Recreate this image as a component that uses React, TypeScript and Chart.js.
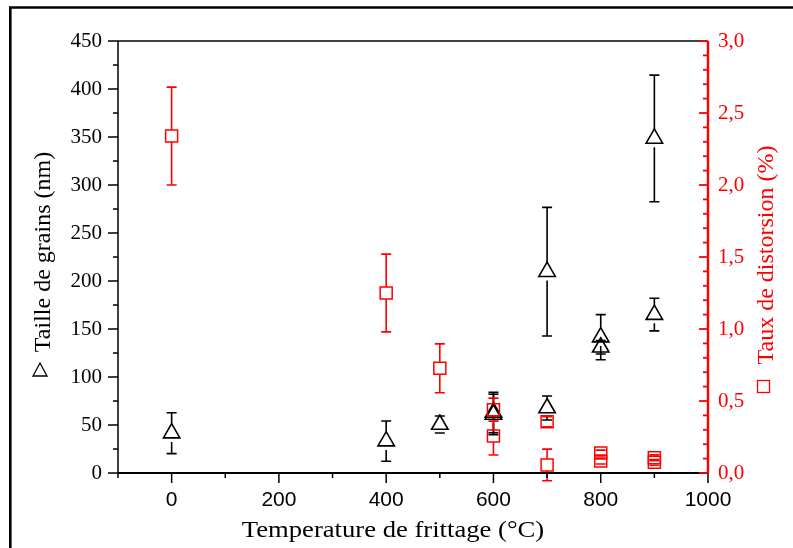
import React, { useEffect, useRef } from 'react';
import { Chart, registerables } from 'chart.js';

Chart.register(...registerables);

// ---- Data ----
const GRAIN_TEMPS = [0, 400, 500, 600, 600, 700, 700, 800, 800, 900, 900];
const GRAIN_SIZE = [41.5, 33.2, 50.5, 63, 61, 209.7, 67.7, 141.5, 131, 348.5, 165];
const GRAIN_ERR = [21.3, 21, 8.8, 21, 21, 67, 12.5, 23.5, 7, 66, 17];

const DIST_TEMPS = [0, 400, 500, 600, 600, 700, 700, 800, 800, 900, 900];
const DISTORTION = [2.34, 1.25, 0.727, 0.44, 0.257, 0.356, 0.056, 0.139, 0.083, 0.106, 0.074];
const DIST_ERR = [0.34, 0.27, 0.17, 0.08, 0.132, 0.035, 0.11, 0.02, 0.02, 0.02, 0.02];

const X_MAJOR = [0, 200, 400, 600, 800, 1000];
const X_MINOR = [-100, 100, 300, 500, 700, 900];
const Y_MAJOR = [0, 50, 100, 150, 200, 250, 300, 350, 400, 450];
const Y_MINOR = [25, 75, 125, 175, 225, 275, 325, 375, 425];
const Y2_MAJOR = [0, 0.5, 1.0, 1.5, 2.0, 2.5, 3.0];
const Y2_MINOR = [0.1, 0.2, 0.3, 0.4, 0.6, 0.7, 0.8, 0.9, 1.1, 1.2, 1.3, 1.4, 1.6, 1.7, 1.8, 1.9, 2.1, 2.2, 2.3, 2.4, 2.6, 2.7, 2.8, 2.9];

const X_TITLE = 'Temperature de frittage (°C)';
const Y_TITLE = 'Taille de grains (nm)';
const Y2_TITLE = 'Taux de distorsion (%)';

const RED = '#ff0000';
const SERIF = '"Liberation Serif", "Times New Roman", serif';
const SANS = '"Liberation Sans", Arial, sans-serif';

const errorBarPlugin = {
  id: 'errorBars',
  beforeDatasetsDraw(chart: any) {
    const ctx = chart.ctx;
    const xs = chart.scales.x;
    chart.data.datasets.forEach((ds: any) => {
      const ys = chart.scales[ds.yAxisID];
      const r = ds.pointRadius;
      const isTri = ds.pointStyle === 'triangle';
      const gapTop = isTri ? r : r * Math.SQRT1_2;
      const gapBot = isTri ? r / 2 + 4 : r * Math.SQRT1_2;
      ctx.save();
      ctx.strokeStyle = ds.borderColor;
      ctx.lineWidth = 1.6;
      ds.data.forEach((p: any) => {
        const x = xs.getPixelForValue(p.x);
        const yc = ys.getPixelForValue(p.y);
        const yT = ys.getPixelForValue(p.y + p.err);
        const yB = ys.getPixelForValue(p.y - p.err);
        ctx.beginPath();
        if (yT < yc - gapTop) { ctx.moveTo(x, yT); ctx.lineTo(x, yc - gapTop); }
        if (yB > yc + gapBot) { ctx.moveTo(x, yc + gapBot); ctx.lineTo(x, yB); }
        ctx.moveTo(x - 5, yT); ctx.lineTo(x + 5, yT);
        ctx.moveTo(x - 5, yB); ctx.lineTo(x + 5, yB);
        ctx.stroke();
      });
      ctx.restore();
    });
  },
};

const axesPlugin = {
  id: 'axesDecor',
  afterDraw(chart: any) {
    const ctx = chart.ctx;
    const { left, right, top, bottom } = chart.chartArea;
    const xs = chart.scales.x;
    const ys = chart.scales.y;
    const y2 = chart.scales.y1;
    ctx.save();
    // frame
    ctx.strokeStyle = '#000';
    ctx.lineWidth = 2.6;
    ctx.beginPath();
    ctx.moveTo(10.3, 548); ctx.lineTo(10.3, 7.5); ctx.lineTo(793, 7.5);
    ctx.stroke();

    // top axis line
    ctx.lineWidth = 1.5;
    ctx.beginPath(); ctx.moveTo(left, top); ctx.lineTo(right, top); ctx.stroke();
    // left axis
    ctx.beginPath(); ctx.moveTo(left, top); ctx.lineTo(left, bottom); ctx.stroke();
    Y_MAJOR.forEach(v => { const y = ys.getPixelForValue(v); ctx.beginPath(); ctx.moveTo(left - 10, y); ctx.lineTo(left, y); ctx.stroke(); });
    Y_MINOR.forEach(v => { const y = ys.getPixelForValue(v); ctx.beginPath(); ctx.moveTo(left - 5, y); ctx.lineTo(left, y); ctx.stroke(); });
    // bottom axis
    ctx.lineWidth = 1.8;
    ctx.beginPath(); ctx.moveTo(left, bottom); ctx.lineTo(right, bottom); ctx.stroke();
    ctx.lineWidth = 1.5;
    X_MAJOR.forEach(v => { const x = xs.getPixelForValue(v); ctx.beginPath(); ctx.moveTo(x, bottom); ctx.lineTo(x, bottom + 10); ctx.stroke(); });
    X_MINOR.forEach(v => { const x = xs.getPixelForValue(v); ctx.beginPath(); ctx.moveTo(x, bottom); ctx.lineTo(x, bottom + 5); ctx.stroke(); });
    // right axis (red, inward ticks)
    ctx.strokeStyle = RED;
    ctx.lineWidth = 2.4;
    ctx.beginPath(); ctx.moveTo(right, top); ctx.lineTo(right, bottom); ctx.stroke();
    ctx.lineWidth = 1.8;
    Y2_MAJOR.forEach(v => { const y = y2.getPixelForValue(v); ctx.beginPath(); ctx.moveTo(right - 9, y); ctx.lineTo(right, y); ctx.stroke(); });
    Y2_MINOR.forEach(v => { const y = y2.getPixelForValue(v); ctx.beginPath(); ctx.moveTo(right - 5, y); ctx.lineTo(right, y); ctx.stroke(); });

    // titles
    ctx.fillStyle = '#000';
    ctx.font = `24px ${SERIF}`;
    ctx.textAlign = 'center';
    ctx.textBaseline = 'alphabetic';
    ctx.save();
    ctx.translate(393, 537);
    ctx.scale(1.11, 1);
    ctx.fillText(X_TITLE, 0, 0);
    ctx.restore();

    ctx.save();
    ctx.translate(50, 252);
    ctx.rotate(-Math.PI / 2);
    ctx.fillText(Y_TITLE, 0, 0);
    ctx.restore();
    // triangle symbol
    ctx.lineWidth = 1.3;
    ctx.strokeStyle = '#000';
    ctx.beginPath();
    ctx.moveTo(40, 363); ctx.lineTo(47, 376); ctx.lineTo(33, 376); ctx.closePath();
    ctx.stroke();

    ctx.fillStyle = RED;
    ctx.save();
    ctx.translate(773, 255);
    ctx.rotate(-Math.PI / 2);
    ctx.fillText(Y2_TITLE, 0, 0);
    ctx.restore();
    ctx.strokeStyle = RED;
    ctx.lineWidth = 1.3;
    ctx.strokeRect(757.5, 380.5, 12, 12);
    ctx.restore();
  },
};

export default function App() {
  const ref = useRef<HTMLCanvasElement | null>(null);
  useEffect(() => {
    if (!ref.current) return;
    const grain = GRAIN_TEMPS.map((t, i) => ({ x: t, y: GRAIN_SIZE[i], err: GRAIN_ERR[i] }));
    const dist = DIST_TEMPS.map((t, i) => ({ x: t, y: DISTORTION[i], err: DIST_ERR[i] }));
    const chart = new Chart(ref.current, {
      type: 'scatter',
      data: {
        datasets: [
          {
            label: Y_TITLE,
            data: grain,
            yAxisID: 'y',
            pointStyle: 'triangle',
            pointRadius: 9.5,
            borderColor: '#000',
            backgroundColor: 'rgba(0,0,0,0)',
            borderWidth: 1.6,
            order: 1,
          } as any,
          {
            label: Y2_TITLE,
            data: dist,
            yAxisID: 'y1',
            pointStyle: 'rect',
            pointRadius: 8.5,
            borderColor: RED,
            backgroundColor: 'rgba(0,0,0,0)',
            borderWidth: 1.5,
            order: 0,
          } as any,
        ],
      },
      options: {
        responsive: false,
        animation: false,
        devicePixelRatio: 1,
        layout: { padding: { top: 41, left: 0, right: 0, bottom: 0 } },
        plugins: { legend: { display: false }, tooltip: { enabled: false } },
        scales: {
          x: {
            type: 'linear',
            min: -100,
            max: 1000,
            grid: { display: false, drawTicks: false },
            border: { display: false },
            afterBuildTicks: (s: any) => { s.ticks = X_MAJOR.map(v => ({ value: v })); },
            afterFit: (s: any) => { s.height = 75; },
            ticks: { color: '#000', font: { family: SANS, size: 21 }, padding: 15, maxRotation: 0, autoSkip: false, callback: (v: any) => String(v) },
          },
          y: {
            type: 'linear',
            position: 'left',
            min: 0,
            max: 450,
            grid: { display: false, drawTicks: false },
            border: { display: false },
            afterBuildTicks: (s: any) => { s.ticks = Y_MAJOR.map(v => ({ value: v })); },
            afterFit: (s: any) => { s.width = 118; },
            ticks: { color: '#000', font: { family: SERIF, size: 21 }, padding: 16, autoSkip: false },
          },
          y1: {
            type: 'linear',
            position: 'right',
            min: 0,
            max: 3,
            grid: { display: false, drawTicks: false },
            border: { display: false },
            afterBuildTicks: (s: any) => { s.ticks = Y2_MAJOR.map(v => ({ value: v })); },
            afterFit: (s: any) => { s.width = 85; },
            ticks: { color: RED, font: { family: SERIF, size: 21 }, padding: 10, autoSkip: false, callback: (v: any) => Number(v).toFixed(1).replace('.', ',') },
          },
        },
      },
      plugins: [errorBarPlugin, axesPlugin],
    });
    return () => chart.destroy();
  }, []);
  return (
    <div style={{ position: 'fixed', left: 0, top: 0, width: 793, height: 548, background: '#fff' }}>
      <canvas ref={ref} width={793} height={548} style={{ display: 'block' }} />
    </div>
  );
}
